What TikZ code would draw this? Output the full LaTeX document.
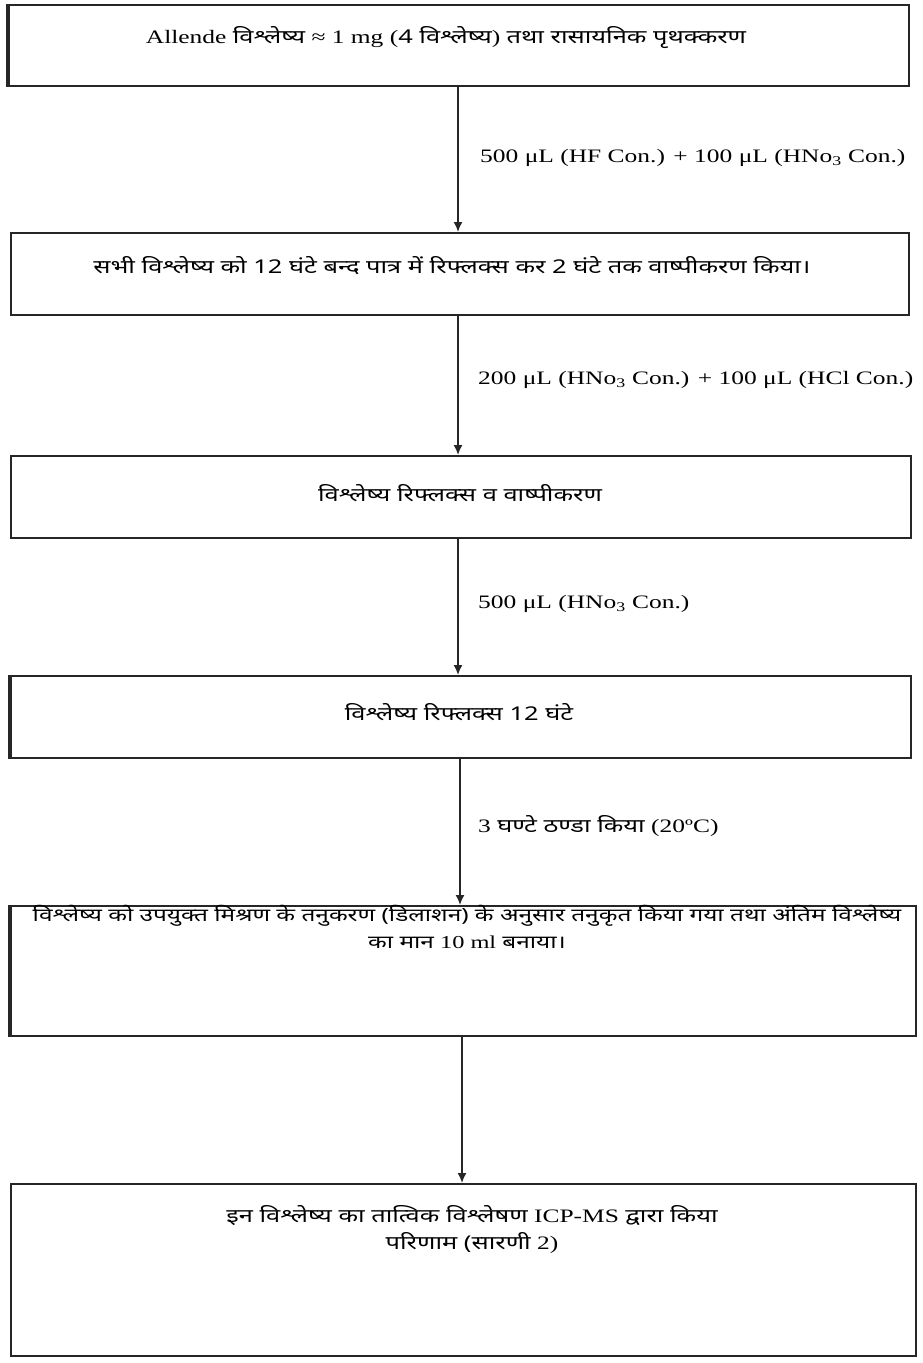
\documentclass[tikz,border=0pt]{standalone}
\usepackage{fontspec}
\setmainfont[FakeStretch=1.34]{Liberation Serif}
\newfontfamily\dev[Script=Devanagari,FakeStretch=1.34]{Noto Sans}
\usetikzlibrary{arrows.meta}
\tikzset{
  box/.style={draw=black!85, line width=1.5pt, minimum height=#1, anchor=north west, inner sep=0pt},
  txt/.style={font=\fontsize{19}{27}\selectfont, align=center, inner sep=0pt},
  lab/.style={font=\fontsize{19}{22}\selectfont, anchor=west, inner sep=0pt},
  flow/.style={draw=black!85, line width=1.6pt, -{Latex[length=10pt,width=9pt]}},
  thick edge/.style={line width=3.5pt, draw=black!85}
}
\begin{document}
\begin{tikzpicture}[x=1pt,y=-1pt]
\useasboundingbox (0,0) rectangle (923,1363);
% boxes
\node[box=81pt, minimum width=900pt] (b1) at (8,4) {};
\node[box=82pt, minimum width=898pt] (b2) at (10,232) {};
\node[box=82pt, minimum width=900pt] (b3) at (10,455) {};
\node[box=82pt, minimum width=900pt] (b4) at (10,675) {};
\node[box=130pt, minimum width=905pt] (b5) at (10,905) {};
\node[box=172pt, minimum width=905pt] (b6) at (10,1183) {};
\draw[thick edge] (b1.north west) -- (b1.south west);
\draw[thick edge] (b4.north west) -- (b4.south west);
\draw[thick edge] (b5.north west) -- (b5.south west);
% texts
\node[txt] (t1) at (446,38) {Allende {\dev विश्लेष्य} ≈ 1 mg ({\dev 4 विश्लेष्य}) {\dev तथा रासायनिक पृथक्करण}};
\node[txt] (t2) at (452,266) {\dev सभी विश्लेष्य को 12 घंटे बन्द पात्र में रिफ्लक्स कर 2 घंटे तक वाष्पीकरण किया।};
\node[txt] (t3) at (460,493) {\dev विश्लेष्य रिफ्लक्स व वाष्पीकरण};
\node[txt] (t4) at (459,712) {\dev विश्लेष्य रिफ्लक्स 12 घंटे};
\node[txt, font=\fontsize{18.2}{27}\selectfont, anchor=north] (t5) at (467,905) {{\dev विश्लेष्य को उपयुक्त मिश्रण के तनुकरण (डिलाशन) के अनुसार तनुकृत किया गया तथा अंतिम विश्लेष्य}\\{\dev का मान} 10 ml {\dev बनाया।}};
\node[txt, anchor=north] (t6) at (472,1205) {{\dev इन विश्लेष्य का तात्विक विश्लेषण} ICP-MS {\dev द्वारा किया}\\{\dev परिणाम (सारणी} 2)};
% connectors
\draw[flow] (b1.south -| 458,0) -- (b2.north -| 458,0);
\draw[flow] (b2.south -| 458,0) -- (b3.north -| 458,0);
\draw[flow] (b3.south -| 458,0) -- (b4.north -| 458,0);
\draw[flow] (b4.south -| 460,0) -- (b5.north -| 460,0);
\draw[flow] (b5.south -| 462,0) -- (b6.north -| 462,0);
% labels
\node[lab] (l1) at (480,158) {500 μL (HF Con.) + 100 μL (HNo\textsubscript{3} Con.)};
\node[lab] (l2) at (478,380) {200 μL (HNo\textsubscript{3} Con.) + 100 μL (HCl Con.)};
\node[lab] (l3) at (478,604) {500 μL (HNo\textsubscript{3} Con.)};
\node[lab] (l4) at (478,826) {3 {\dev घण्टे ठण्डा किया} (20ºC)};
\end{tikzpicture}
\end{document}
